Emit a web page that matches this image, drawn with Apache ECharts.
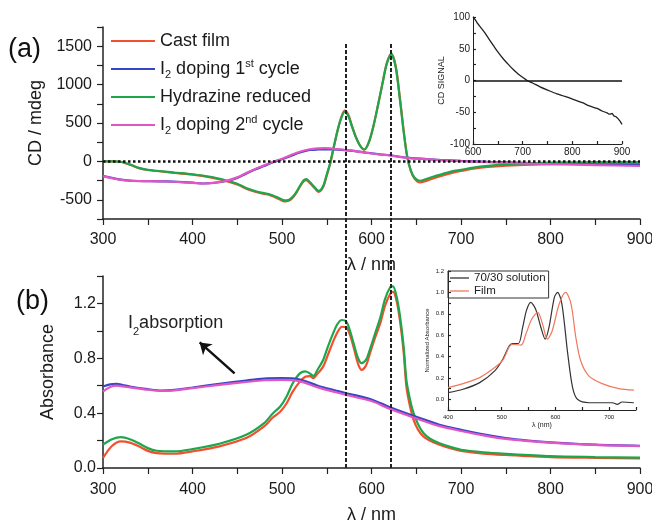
<!DOCTYPE html>
<html>
<head>
<meta charset="utf-8">
<script src="https://cdn.jsdelivr.net/npm/echarts@6.0.0/dist/echarts.min.js"></script>
<style>
html, body { margin: 0; padding: 0; background: #fff; }
#chart { width: 652px; height: 527px; }
</style>
</head>
<body>
<div id="chart"></div>
<script>
// (a) CD spectra
var cdWl = [300, 310, 320, 330, 340, 350, 360, 380, 400, 420, 435, 450, 460, 470, 480, 485, 490, 497, 503, 508, 512, 516, 520, 524, 527, 531, 536, 541, 546, 550, 554, 558, 562, 566, 570, 574, 578, 582, 587, 592, 597, 602, 607, 612, 617, 622, 627, 632, 636, 640, 644, 648, 654, 662, 676, 690, 700, 714, 730, 750, 770, 790, 820, 850, 900];
var cdCast = [0, 0, -8, -42, -88, -112, -125, -150, -172, -207, -248, -300, -355, -395, -425, -432, -455, -492, -522, -510, -472, -410, -330, -262, -245, -280, -342, -398, -335, -185, -25, 190, 395, 565, 660, 610, 470, 335, 210, 152, 245, 450, 715, 1000, 1275, 1405, 1245, 800, 395, 60, -125, -225, -275, -250, -195, -150, -125, -95, -72, -55, -45, -38, -32, -28, -25];
var cdHydrazine = [0, 0, -5, -40, -85, -110, -122, -145, -167, -200, -240, -290, -345, -385, -414, -425, -444, -480, -508, -498, -462, -400, -320, -250, -232, -268, -330, -385, -320, -170, -10, 200, 400, 560, 645, 595, 460, 330, 210, 155, 250, 453, 720, 1000, 1270, 1393, 1230, 780, 380, 50, -120, -210, -252, -225, -175, -130, -110, -80, -58, -40, -28, -18, -13, -10, -9];
var cdWl2 = [300, 310, 320, 330, 340, 350, 370, 390, 400, 412, 425, 438, 450, 460, 470, 480, 490, 500, 510, 520, 531, 540, 548, 555, 562, 570, 580, 594, 610, 620, 639, 660, 676, 700, 730, 760, 800, 850, 900];
var cdDoping1 = [-188, -215, -238, -250, -255, -256, -260, -270, -277, -288, -278, -255, -215, -160, -105, -60, -12, 28, 72, 115, 148, 155, 156, 155, 153, 148, 138, 115, 92, 80, 50, 32, 20, 8, -5, -15, -28, -38, -45];
var cdDoping2 = [-192, -218, -240, -252, -256, -257, -262, -272, -279, -288, -276, -252, -208, -150, -98, -52, -5, 35, 82, 125, 158, 170, 173, 168, 160, 150, 138, 113, 90, 77, 47, 30, 17, 4, -10, -22, -35, -48, -60];

// (b) absorbance spectra
var absWl = [300, 310, 320, 330, 340, 350, 360, 380, 400, 430, 460, 480, 490, 498, 505, 512, 520, 526, 531, 535, 540, 546, 551, 557, 562, 567, 572, 576, 580, 585, 589, 594, 598, 604, 610, 615, 621, 624, 628, 632, 636, 639, 643, 647, 652, 658, 665, 676, 690, 700, 725, 750, 800, 850, 900];
var absCast = [0.073, 0.16, 0.194, 0.185, 0.158, 0.125, 0.109, 0.104, 0.121, 0.158, 0.218, 0.303, 0.37, 0.41, 0.47, 0.557, 0.63, 0.665, 0.67, 0.655, 0.69, 0.739, 0.82, 0.92, 0.99, 1.03, 1.025, 0.97, 0.88, 0.76, 0.715, 0.75, 0.83, 0.95, 1.06, 1.18, 1.27, 1.285, 1.22, 1.066, 0.84, 0.594, 0.45, 0.351, 0.28, 0.23, 0.2, 0.17, 0.14, 0.125, 0.105, 0.095, 0.08, 0.074, 0.07];
var absHydrazine = [0.17, 0.21, 0.225, 0.21, 0.18, 0.145, 0.126, 0.121, 0.138, 0.177, 0.242, 0.327, 0.4, 0.448, 0.52, 0.618, 0.69, 0.705, 0.69, 0.671, 0.72, 0.788, 0.88, 0.98, 1.05, 1.079, 1.066, 1.0, 0.909, 0.8, 0.764, 0.79, 0.86, 0.98, 1.1, 1.23, 1.32, 1.325, 1.25, 1.1, 0.88, 0.64, 0.5, 0.4, 0.32, 0.255, 0.215, 0.18, 0.15, 0.133, 0.115, 0.104, 0.087, 0.08, 0.075];
var absWl2 = [300, 308, 315, 322, 330, 350, 365, 380, 400, 430, 460, 480, 500, 520, 540, 560, 572, 600, 620, 654, 676, 700, 725, 750, 775, 800, 850, 900];
var absDoping1 = [0.594, 0.61, 0.613, 0.605, 0.594, 0.575, 0.565, 0.57, 0.587, 0.613, 0.638, 0.652, 0.655, 0.645, 0.6, 0.565, 0.545, 0.5, 0.445, 0.364, 0.315, 0.279, 0.245, 0.218, 0.2, 0.187, 0.17, 0.162];
var absDoping2 = [0.557, 0.59, 0.6, 0.595, 0.588, 0.571, 0.562, 0.566, 0.582, 0.606, 0.627, 0.64, 0.642, 0.632, 0.588, 0.552, 0.532, 0.488, 0.432, 0.352, 0.305, 0.27, 0.238, 0.212, 0.196, 0.185, 0.168, 0.16];

// inset of (a)
var insetCdWl = [600, 605, 610, 615, 621, 630, 642, 650, 660, 668, 680, 692, 700, 709, 720, 735, 750, 769, 785, 803, 820, 836, 850, 860, 870, 875, 880, 884, 888, 892, 896, 900];
var insetCd = [100, 95, 89, 84, 78, 68, 54, 45, 35, 28, 18, 9.5, 5, 0, -4, -10, -15, -21, -25, -30, -35, -40.5, -44, -48, -51, -53, -52, -56, -57, -60, -64, -69];

// inset of (b)
var solWl = [400, 428, 459, 487, 502, 514, 520, 531, 539, 546, 554, 563, 573, 581, 588, 598, 604, 612, 623, 632, 641, 663, 706, 715, 724, 746];
var solAbs = [0.062, 0.094, 0.156, 0.266, 0.375, 0.5, 0.522, 0.522, 0.672, 0.83, 0.907, 0.845, 0.672, 0.563, 0.672, 0.954, 1.0, 0.892, 0.422, 0.109, 0.0, -0.032, -0.032, -0.047, -0.025, -0.032];
var filmWl = [400, 428, 459, 487, 502, 514, 520, 536, 545, 556, 567, 576, 585, 594, 607, 619, 629, 638, 647, 662, 687, 718, 746];
var filmAbs = [0.109, 0.147, 0.203, 0.297, 0.366, 0.491, 0.514, 0.507, 0.61, 0.751, 0.813, 0.704, 0.563, 0.641, 0.892, 1.0, 0.892, 0.578, 0.36, 0.219, 0.147, 0.1, 0.085];

var guideWl = [571, 622];
var arrowFrom = [447, 0.69];
var arrowTo = [408, 0.916];

var names = ['Cast film', 'I2 doping 1st cycle', 'Hydrazine reduced', 'I2 doping 2nd cycle'];
var colors = ['#f0502d', '#3646c4', '#1ea64c', '#e255c4'];
var FONT = '"Liberation Sans", Arial, sans-serif';
var INK = '#1a1a1a';

function zip(xs, ys) {
	return xs.map(function(x, i) { return [x, ys[i]]; });
}

function curve(name, color, grid, data, width) {
	return {
		type: 'line', name: name, xAxisIndex: grid, yAxisIndex: grid,
		data: data, symbol: 'none', smooth: 0.3, silent: true,
		lineStyle: { color: color, width: width || 2.2 },
		itemStyle: { color: color }
	};
}

function axisBase(grid, min, max, interval, fmt, fontSize, margin) {
	return {
		type: 'value', gridIndex: grid, min: min, max: max, interval: interval,
		axisLine: { show: true, onZero: false, lineStyle: { color: '#222', width: 1.5 } },
		axisTick: { show: true, length: 6, lineStyle: { color: '#222', width: 1.2 } },
		axisLabel: { show: true, fontSize: fontSize, margin: margin, color: INK, fontFamily: FONT, formatter: fmt },
		splitLine: { show: false },
		nameTextStyle: { color: INK, fontFamily: FONT, fontSize: 18 }
	};
}

var every100 = function(v) { return v % 100 === 0 ? String(v) : ''; };

var xA = axisBase(0, 300, 900, 50, every100, 16, 13);
xA.name = 'λ / nm'; xA.nameLocation = 'middle'; xA.nameGap = 37;
var xB = axisBase(1, 300, 900, 50, every100, 16, 14);
xB.name = 'λ / nm'; xB.nameLocation = 'middle'; xB.nameGap = 38;
var xIa = axisBase(2, 600, 900, 50, every100, 10, 3);
xIa.axisTick.inside = true; xIa.axisTick.length = 3; xIa.axisLine.lineStyle.width = 1;
var xIb = axisBase(3, 400, 750, 50, every100, 6, 4);
xIb.axisTick.inside = true; xIb.axisTick.length = 3; xIb.axisLine.lineStyle.width = 1;
xIb.name = 'λ (nm)'; xIb.nameLocation = 'middle'; xIb.nameGap = 12; xIb.nameTextStyle.fontSize = 7;

var yA = axisBase(0, -750, 1750, 250, function(v) { return v % 500 === 0 ? String(v) : ''; }, 16, 11);
yA.name = 'CD / mdeg'; yA.nameLocation = 'middle'; yA.nameGap = 58;
var yB = axisBase(1, 0, 1.4, 0.2, function(v) { return Math.round(v * 10) % 4 === 0 ? v.toFixed(1) : ''; }, 16, 7);
yB.name = 'Absorbance'; yB.nameLocation = 'middle'; yB.nameGap = 46;
var yIa = axisBase(2, -100, 100, 25, function(v) { return v % 50 === 0 ? String(v) : ''; }, 10, 3);
yIa.axisTick.inside = true; yIa.axisTick.length = 3; yIa.axisLine.lineStyle.width = 1;
yIa.name = 'CD SIGNAL'; yIa.nameLocation = 'middle'; yIa.nameGap = 24; yIa.nameTextStyle.fontSize = 9;
var yIb = axisBase(3, -0.1, 1.2, 0.1, function(v) { return Math.round(v * 10) % 2 === 0 ? v.toFixed(1) : ''; }, 6, 4);
yIb.axisTick.inside = true; yIb.axisTick.length = 3; yIb.axisLine.lineStyle.width = 1;
yIb.name = 'Normalized Absorbance'; yIb.nameLocation = 'middle'; yIb.nameGap = 18; yIb.nameTextStyle.fontSize = 6;

var series = [
	curve(names[0], colors[0], 0, zip(cdWl, cdCast)),
	curve(names[1], colors[1], 0, zip(cdWl2, cdDoping1)),
	curve(names[2], colors[2], 0, zip(cdWl, cdHydrazine)),
	curve(names[3], colors[3], 0, zip(cdWl2, cdDoping2)),
	curve(names[0], colors[0], 1, zip(absWl, absCast)),
	curve(names[2], colors[2], 1, zip(absWl, absHydrazine)),
	curve(names[1], colors[1], 1, zip(absWl2, absDoping1)),
	curve(names[3], colors[3], 1, zip(absWl2, absDoping2)),
	curve('CD signal', '#222', 2, zip(insetCdWl, insetCd), 1.3),
	curve('70/30 solution', '#333', 3, zip(solWl, solAbs), 1.2),
	curve('Film', '#f2775d', 3, zip(filmWl, filmAbs), 1.2)
];

// inset zero line
series[8].markLine = {
	silent: true, symbol: 'none', label: { show: false }, animation: false,
	lineStyle: { color: '#111', width: 1.5, type: 'solid' },
	data: [{ yAxis: 0 }]
};

// dotted zero line of (a)
series.push({
	type: 'line', name: 'zero', xAxisIndex: 0, yAxisIndex: 0, data: [], z: 5,
	markLine: {
		silent: true, symbol: 'none', label: { show: false }, animation: false,
		lineStyle: { color: '#111', width: 2.5, type: [2.5, 2.5] },
		data: [{ yAxis: 0 }]
	}
});

// vertical guides crossing both panels
series.push({
	type: 'line', name: 'guides', xAxisIndex: 4, yAxisIndex: 4, data: [], z: 6,
	markLine: {
		silent: true, symbol: 'none', label: { show: false }, animation: false,
		lineStyle: { color: '#222', width: 2, type: [4, 2] },
		data: guideWl.map(function(w) { return { xAxis: w }; })
	}
});

// I2 absorption arrow
series.push({
	type: 'line', name: 'arrow', xAxisIndex: 1, yAxisIndex: 1, data: [], z: 6,
	markLine: {
		silent: true, symbol: ['none', 'arrow'], symbolSize: 11, label: { show: false }, animation: false,
		lineStyle: { color: '#111', width: 2.5, type: 'solid' },
		data: [[{ coord: arrowFrom }, { coord: arrowTo }]]
	}
});

var richSmall = {
	sub: { fontSize: 11, verticalAlign: 'bottom', color: INK, fontFamily: FONT },
	sup: { fontSize: 11, verticalAlign: 'top', color: INK, fontFamily: FONT }
};

var option = {
	animation: false,
	backgroundColor: '#fff',
	grid: [
		{ left: 103, top: 27, width: 537, height: 192, outerBoundsMode: 'none' },
		{ left: 103, top: 276, width: 537, height: 192, outerBoundsMode: 'none' },
		{ left: 473, top: 17, width: 149, height: 127, outerBoundsMode: 'none' },
		{ left: 448, top: 271, width: 188, height: 139, outerBoundsMode: 'none' },
		{ left: 103, top: 42, width: 537, height: 426, outerBoundsMode: 'none' }
	],
	xAxis: [xA, xB, xIa, xIb, { type: 'value', gridIndex: 4, min: 300, max: 900, show: false }],
	yAxis: [yA, yB, yIa, yIb, { type: 'value', gridIndex: 4, min: 0, max: 1, show: false }],
	legend: [{
		data: names, left: 111, top: 30, orient: 'vertical', padding: 0,
		icon: 'rect', itemWidth: 44, itemHeight: 2, itemGap: 6, selectedMode: false,
		textStyle: { fontSize: 18, lineHeight: 22, color: INK, fontFamily: FONT, rich: richSmall },
		formatter: function(name) {
			if (name === 'I2 doping 1st cycle') return 'I{sub|2} doping 1{sup|st} cycle';
			if (name === 'I2 doping 2nd cycle') return 'I{sub|2} doping 2{sup|nd} cycle';
			return name;
		}
	}, {
		data: ['70/30 solution', 'Film'], left: 448, top: 271, orient: 'vertical',
		padding: [1, 3, 1, 2], icon: 'rect', itemWidth: 19, itemHeight: 1.3, itemGap: 1, selectedMode: false,
		borderColor: '#333', borderWidth: 1,
		textStyle: { fontSize: 11.5, lineHeight: 12, color: '#222', fontFamily: FONT }
	}],
	graphic: [
		{ type: 'text', left: 8, top: 36, style: { text: '(a)', fontSize: 27, fontFamily: FONT, fill: '#111' } },
		{ type: 'text', left: 16, top: 288, style: { text: '(b)', fontSize: 27, fontFamily: FONT, fill: '#111' } },
		{ type: 'text', left: 128, top: 309, style: {
			text: 'I{sub|2}absorption', fontSize: 18, lineHeight: 28, fontFamily: FONT, fill: '#222',
			rich: { sub: { fontSize: 11, verticalAlign: 'bottom', fill: '#222', fontFamily: FONT } }
		} }
	],
	series: series
};

var chart = echarts.init(document.getElementById('chart'));
chart.setOption(option);
</script>
</body>
</html>
